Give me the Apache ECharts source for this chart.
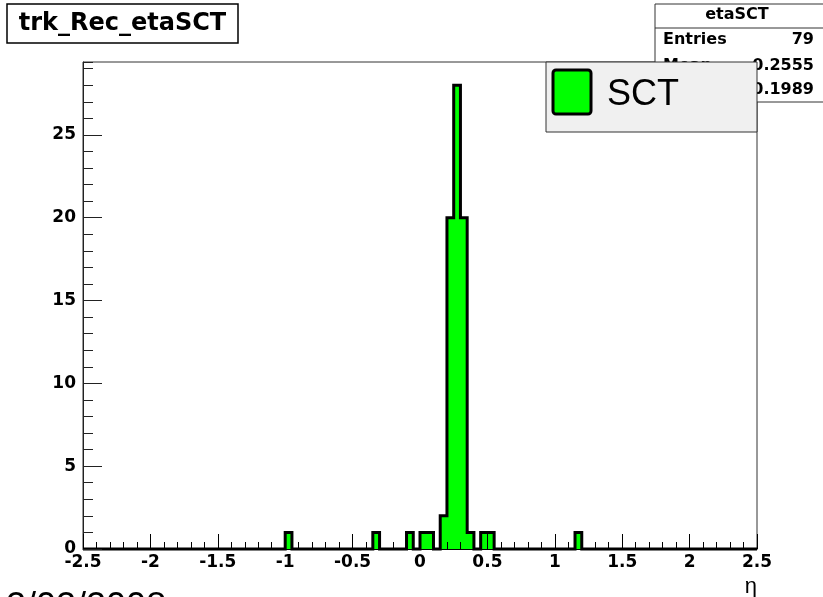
<!DOCTYPE html>
<html>
<head>
<meta charset="utf-8">
<script src="https://cdn.jsdelivr.net/npm/echarts@6/dist/echarts.min.js"></script>
<style>
  html, body { margin: 0; padding: 0; background: #fff; }
  #chart { width: 823px; height: 597px; }
</style>
</head>
<body>
<div id="chart"></div>
<script>
// histogram binning (ROOT TH1: 100 bins from -2.5 to 2.5)
const xMin = -2.5;
const xMax = 2.5;
const binWidth = 0.05;
const nBins = 100;

// non-empty bins: lower edge and content
const binLow = [-1.0, -0.35, -0.1, 0.0, 0.05, 0.15, 0.2, 0.25, 0.3, 0.35, 0.45, 0.5, 1.15];
const counts = [1, 1, 1, 1, 1, 2, 20, 28, 20, 1, 1, 1, 1];

const yMax = 29.4;
const statNames = ['Entries', 'Mean', 'RMS'];
const statValues = ['79', '0.2555', '0.1989'];

// full bin contents
const contents = new Array(nBins).fill(0);
binLow.forEach((b, i) => {
  contents[Math.round((b - xMin) / binWidth)] = counts[i];
});
const stepData = contents.map((c, i) => [Math.round((xMin + i * binWidth) * 100) / 100, c]);
stepData.push([xMax, 0]);

const boldFont = '"DejaVu Sans", sans-serif';
const plainFont = '"Liberation Sans", Arial, sans-serif';

const chart = echarts.init(document.getElementById('chart'));

function txt(x, y, s, font, align, z) {
  return {
    type: 'text', x: x, y: y, z: z,
    style: { text: s, fill: '#000', font: font,
      textAlign: align, align: align, textVerticalAlign: 'middle', verticalAlign: 'middle' }
  };
}

const statTexts = [];
statNames.forEach((n, i) => {
  const y = i === 0 ? 40 : 42 + i * 24;
  statTexts.push(txt(663, y, n, 'bold 16px ' + boldFont, 'left', 11));
  statTexts.push(txt(814, y, statValues[i], 'bold 16px ' + boldFont, 'right', 11));
});

chart.setOption({
  animation: false,
  backgroundColor: '#fff',
  grid: {
    left: 83, top: 62, width: 674, height: 487,
    show: true, borderColor: '#333', borderWidth: 1, backgroundColor: '#fff',
    outerBoundsMode: 'none'
  },
  xAxis: {
    type: 'value', min: xMin, max: xMax, interval: 0.5, z: 5,
    axisLine: { show: true, onZero: false, lineStyle: { color: '#000', width: 1 } },
    axisTick: { inside: true, length: 15, lineStyle: { color: '#000', width: 1 } },
    minorTick: { show: true, splitNumber: 5, length: 7, lineStyle: { color: '#000', width: 1 } },
    axisLabel: { margin: 5, color: '#000', fontFamily: boldFont, fontWeight: 'bold', fontSize: 17 },
    splitLine: { show: false }
  },
  yAxis: [
    {
      type: 'value', min: 0, max: yMax, interval: 5, position: 'left', z: 5,
      axisLine: { show: true, onZero: false, lineStyle: { color: '#222', width: 1 } },
      axisTick: { inside: true, length: 19, lineStyle: { color: '#222', width: 1 } },
      axisLabel: { margin: 7, showMaxLabel: false, color: '#000', fontFamily: boldFont, fontWeight: 'bold', fontSize: 17 },
      splitLine: { show: false }
    },
    {
      type: 'value', min: 0, max: yMax, interval: 1, position: 'left', z: 5,
      axisLine: { show: false, onZero: false },
      axisTick: { inside: true, length: 10, lineStyle: { color: '#222', width: 1 } },
      axisLabel: { show: false },
      splitLine: { show: false }
    }
  ],
  series: [{
    type: 'line',
    data: stepData,
    step: 'end',
    symbol: 'none',
    clip: false,
    z: 2,
    lineStyle: { color: '#000', width: 3, join: 'miter', cap: 'butt' },
    areaStyle: { color: '#00ff00', opacity: 1 }
  }],
  graphic: [
    // title box
    { type: 'rect', shape: { x: 7, y: 4, width: 231, height: 39 },
      style: { fill: '#fff', stroke: '#000', lineWidth: 1.5 }, z: 10 },
    txt(122.5, 24, 'trk_Rec_etaSCT', 'bold 24px ' + boldFont, 'center', 11),
    // stats box
    { type: 'rect', shape: { x: 655, y: 4, width: 180, height: 98 },
      style: { fill: '#fff', stroke: '#333', lineWidth: 1 }, z: 10 },
    { type: 'line', shape: { x1: 655, y1: 28, x2: 830, y2: 28 },
      style: { stroke: '#333', lineWidth: 1 }, z: 10 },
    txt(737, 15, 'etaSCT', 'bold 16px ' + boldFont, 'center', 11),
    ...statTexts,
    // legend box
    { type: 'rect', shape: { x: 546, y: 62, width: 211, height: 70 },
      style: { fill: '#f0f0f0', stroke: '#333', lineWidth: 1 }, z: 20 },
    { type: 'rect', shape: { x: 553, y: 70, width: 38, height: 44, r: 3 },
      style: { fill: '#00ff00', stroke: '#000', lineWidth: 3 }, z: 21 },
    txt(607, 95, 'SCT', '36px ' + plainFont, 'left', 21),
    // x axis title
    txt(757, 587, 'η', '22px ' + plainFont, 'right', 11),
    // date stamp
    txt(6, 608, '2/02/2008', '36px ' + plainFont, 'left', 11)
  ]
});
</script>
</body>
</html>
